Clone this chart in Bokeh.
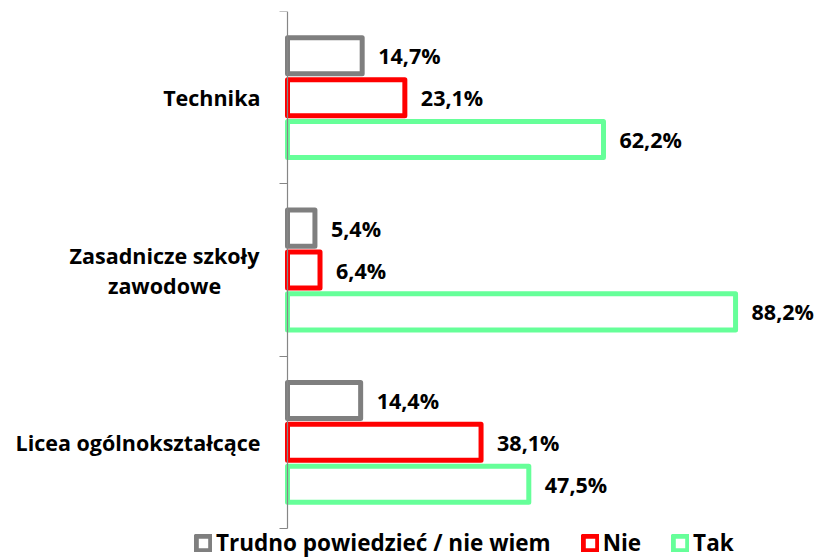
from bokeh.plotting import figure
from bokeh.models import (ColumnDataSource, FixedTicker, LabelSet, Legend, LegendItem, Range1d)
from bokeh.core.properties import value
from bokeh.embed import file_html
from bokeh.resources import INLINE

# ---- data ----
categories = ["Licea ogólnokształcące", "Zasadnicze szkoły\nzawodowe", "Technika"]
series_names = ["Trudno powiedzieć / nie wiem", "Nie", "Tak"]
trudno = [14.4, 5.4, 14.7]
nie = [38.1, 6.4, 23.1]
tak = [47.5, 88.2, 62.2]

colors = ["#7F7F7F", "#FF0000", "#66FF99"]
offsets = [0.243, 0.0, -0.243]
FONT = "Open Sans"
FS = "21.5px"
FS_LEG = "22.5px"

# ---- layout geometry (pixels) ----
W, H = 819, 558
FRAME_L, FRAME_T = 10, 11
AXIS_X = 287          # where value 0 sits
AXIS_BOTTOM = 528     # where the category axis ends
PX_PER_PCT = 5.08
LINE_PX = 30          # line spacing of wrapped category labels
LEGEND_X = 194        # left edge of the legend
n = len(categories)
px_per_cat = (AXIS_BOTTOM - FRAME_T) / n

x_start = -(AXIS_X - FRAME_L) / PX_PER_PCT
x_end = (W - AXIS_X) / PX_PER_PCT
y_start = -(H - AXIS_BOTTOM) / px_per_cat

p = figure(width=W, height=H, output_backend="svg", toolbar_location=None,
           x_range=Range1d(x_start, x_end), y_range=Range1d(y_start, n),
           x_axis_location=None,
           min_border_left=FRAME_L, min_border_right=0, min_border_top=FRAME_T,
           min_border_bottom=0)
p.xgrid.visible = False
p.ygrid.visible = False
p.outline_line_color = None

centers = [i + 0.5 for i in range(n)]
yax = p.yaxis[0]
yax.fixed_location = 0
yax.bounds = (0, n)
yax.ticker = FixedTicker(ticks=[], minor_ticks=list(range(n + 1)))
yax.major_tick_out = 0
yax.major_tick_in = 0
yax.major_label_standoff = 0
yax.minor_tick_out = 8
yax.minor_tick_in = 0
yax.minor_tick_line_color = "#868686"
yax.minor_tick_line_width = 1.2
yax.axis_line_color = "#868686"
yax.axis_line_width = 1.2

renderers = []
for vals, name, col, off in zip([trudno, nie, tak], series_names, colors, offsets):
    ys = [c + off for c in centers]
    labels = [f"{v:.1f}".replace(".", ",") + "%" for v in vals]
    src = ColumnDataSource(dict(y=ys, right=vals, lab=labels))
    r = p.hbar(y="y", left=0, right="right", height=0.209, source=src,
               fill_color="white", line_color=col, line_width=5, line_join="round")
    renderers.append((name, r))
    p.add_layout(LabelSet(x="right", y="y", text="lab", source=src, x_offset=16,
                          text_baseline="middle", text_align="left", text_font=value(FONT),
                          text_font_style="bold", text_font_size=value(FS),
                          text_color="black"))

# category labels left of the axis; wrapped ones are centred line by line
lx, ly, lt, la, lo = [], [], [], [], []
step = LINE_PX / px_per_cat
for c, cat in zip(centers, categories):
    lines = cat.split("\n")
    m = len(lines)
    for k, line in enumerate(lines):
        lx.append(0)
        ly.append(c + ((m - 1) / 2 - k) * step)
        lt.append(line)
        la.append("center" if m > 1 else "right")
        lo.append(-123 if m > 1 else -27)
cat_src = ColumnDataSource(dict(x=lx, y=ly, text=lt, align=la, xo=lo))
p.add_layout(LabelSet(x="x", y="y", text="text", source=cat_src, x_offset="xo",
                      text_align="align", text_baseline="middle", text_font=value(FONT),
                      text_font_style="bold", text_font_size=value(FS), text_color="black"))

legend = Legend(items=[LegendItem(label=nm, renderers=[r]) for nm, r in renderers],
                orientation="horizontal", location=(LEGEND_X - FRAME_L, 0),
                glyph_width=18, glyph_height=18, label_standoff=4, spacing=30,
                padding=0, margin=0, border_line_color=None, background_fill_alpha=0,
                label_text_font=FONT, label_text_font_style="bold", label_text_color="black",
                label_text_font_size=FS_LEG, label_height=24)
p.add_layout(legend, "center")

open("out.html", "w").write(file_html(p, INLINE))
